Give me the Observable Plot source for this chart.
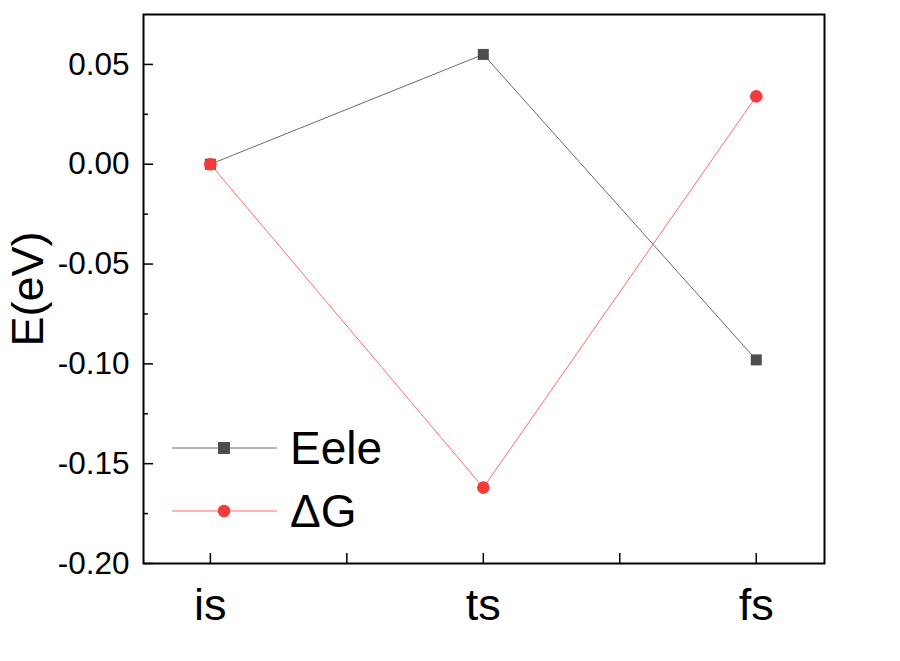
<!DOCTYPE html>
<html>
<head>
<meta charset="utf-8">
<script src="https://cdn.jsdelivr.net/npm/d3@7"></script>
<script src="https://cdn.jsdelivr.net/npm/@observablehq/plot@0.6"></script>
<style>
  html, body { margin: 0; padding: 0; background: #fff; }
  #wrap { position: relative; width: 900px; height: 661px; font-family: "Liberation Sans", Arial, sans-serif; }
  #legend { position: absolute; left: 0; top: 0; pointer-events: none; }
</style>
</head>
<body>
<div id="wrap"></div>
<script>
// ---- data ----
const states = ["is", "ts", "fs"];
const eele = [0, 0.055, -0.098];
const deltaG = [0, -0.162, 0.034];
const seriesNames = ["Eele", "ΔG"];
const yMajorTicks = [-0.2, -0.15, -0.1, -0.05, 0, 0.05];
const yMinorTicks = [-0.175, -0.125, -0.075, -0.025, 0.025];
const xMinorTicks = [0.5, 1.5];

const colorEele = "#4d4d4d";
const lineEele = "#6a6a6a";
const colorG = "#f03c3c";
const lineG = "#ff6b6b";

const rowsE = states.map((s, i) => ({i, s, v: eele[i]}));
const rowsG = states.map((s, i) => ({i, s, v: deltaG[i]}));

const font = "'Liberation Sans', Arial, sans-serif";

const chart = Plot.plot({
  width: 900,
  height: 661,
  marginLeft: 143,
  marginRight: 76,
  marginTop: 14,
  marginBottom: 98,
  style: {fontFamily: font, background: "white", color: "black"},
  x: {domain: [-0.245, 2.25], label: null},
  y: {domain: [-0.2, 0.075], label: null},
  marks: [
    Plot.frame({stroke: "black", strokeWidth: 2}),
    // y axis major ticks (inward) with labels
    Plot.axisY(yMajorTicks, {
      anchor: "left", tickSize: 10, insetLeft: 10, tickPadding: 14,
      tickFormat: d => d.toFixed(2), fontSize: 31.5, strokeWidth: 1.5, label: null
    }),
    Plot.axisY(yMinorTicks, {
      anchor: "left", tickSize: 5, insetLeft: 5, tickFormat: () => "", strokeWidth: 1.5, label: null
    }),
    // x axis
    Plot.axisX([0, 1, 2], {
      anchor: "bottom", tickSize: 10, insetBottom: 10, tickPadding: 25,
      tickFormat: d => states[d], fontSize: 45, strokeWidth: 1.5, label: null
    }),
    Plot.axisX(xMinorTicks, {
      anchor: "bottom", tickSize: 10, insetBottom: 10, tickFormat: () => "", strokeWidth: 1.5, label: null
    }),
    Plot.line(rowsE, {x: "i", y: "v", stroke: lineEele, strokeWidth: 1}),
    Plot.line(rowsG, {x: "i", y: "v", stroke: lineG, strokeWidth: 1}),
    Plot.dot(rowsE, {x: "i", y: "v", symbol: "square", r: 6.2, fill: colorEele, stroke: "none"}),
    Plot.dot(rowsG, {x: "i", y: "v", symbol: "circle", r: 6.3, fill: colorG, stroke: "none"}),
    Plot.text(["E(eV)"], {
      text: d => d, frameAnchor: "left", textAnchor: "middle", dx: -115, rotate: -90, fontSize: 45, fill: "black"
    })
  ]
});

document.getElementById("wrap").appendChild(chart);

// legend overlay
const legend = d3.select("#wrap").append("svg")
  .attr("id", "legend").attr("width", 900).attr("height", 661)
  .style("font-family", font);
const items = [
  {name: seriesNames[0], line: lineEele, fill: colorEele, sym: "square", y: 448},
  {name: seriesNames[1], line: lineG, fill: colorG, sym: "circle", y: 511}
];
items.forEach(it => {
  legend.append("line").attr("x1", 172).attr("x2", 277).attr("y1", it.y).attr("y2", it.y)
    .attr("stroke", it.line).attr("stroke-width", 1);
  if (it.sym === "square") {
    legend.append("rect").attr("x", 224 - 6).attr("y", it.y - 6).attr("width", 12).attr("height", 12).attr("fill", it.fill);
  } else {
    legend.append("circle").attr("cx", 224).attr("cy", it.y).attr("r", 6.3).attr("fill", it.fill);
  }
  legend.append("text").attr("x", 290).attr("y", it.y).attr("dy", "0.35em")
    .attr("font-size", 46).attr("fill", "black").text(it.name);
});
</script>
</body>
</html>
